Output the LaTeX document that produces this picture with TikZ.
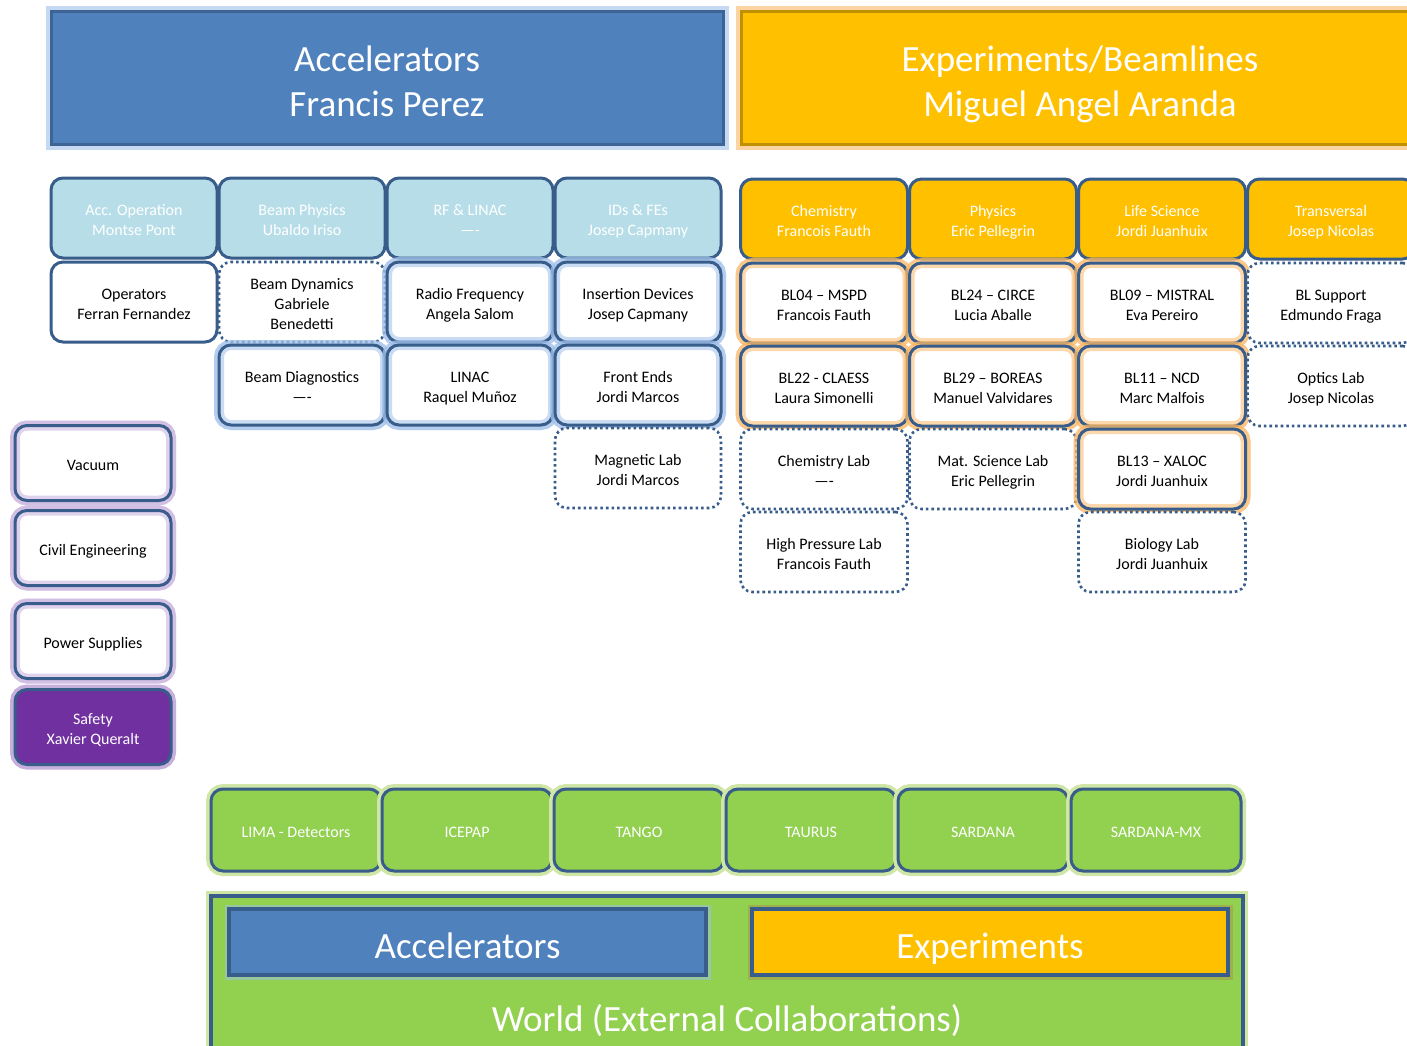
\documentclass[tikz,border=0pt]{standalone}
\usepackage{fontspec}
\setmainfont{Carlito}
\definecolor{accblue}{HTML}{4F81BD}
\definecolor{bord}{HTML}{385D8A}
\definecolor{teal}{HTML}{B7DEE8}
\definecolor{orng}{HTML}{FFC000}
\definecolor{grn}{HTML}{92D050}
\definecolor{purp}{HTML}{7030A0}
\definecolor{gblue}{HTML}{9FC0EA}
\definecolor{gorng}{HTML}{FAB868}
\definecolor{gpurp}{HTML}{C6AEDD}
\definecolor{ggrn}{HTML}{CFE6A6}
\newcommand\bxt[1]{\begin{tabular}{@{}c@{}}\rule{0pt}{20pt}#1\strut\end{tabular}}
\newcommand\bgt[1]{\begin{tabular}{@{}c@{}}\rule{0pt}{46pt}#1\strut\end{tabular}}
\tikzset{
  base/.style={rounded corners=12pt, inner sep=0pt,
    font=\fontsize{16}{20}\selectfont, text=black},
  solidbox/.style={base, fill=white, draw=bord, line width=3pt},
  glowbox/.style={base, fill=white,
    preaction={draw=#1, line width=10pt, opacity=.5},
    postaction={draw=#1, line width=10pt, opacity=.55},
    postaction={draw=bord, line width=3pt}},
  dotbox/.style={base, fill=white, draw=bord, line width=2.6pt, dash pattern=on 2.6pt off 3pt},
  headbox/.style={base, fill=#1, draw=bord, line width=3pt, text=white},
  greenbox/.style={base, fill=grn, text=white,
    preaction={draw=ggrn, line width=10pt},
    postaction={draw=bord, line width=3pt}},
  bigbox/.style={inner sep=0pt, text=white, font=\fontsize{37}{45}\selectfont},
}
\begin{document}
\begin{tikzpicture}[x=1pt,y=-1pt]
\clip (0,0) rectangle (1407,1045);
\fill[white] (0,0) rectangle (1407,1045);
% top headers
\node[bigbox, fill=accblue, draw=bord!80!accblue, line width=3pt,
  preaction={draw=gblue, line width=11pt, opacity=.6},
  minimum width=672pt, minimum height=133pt] (acc) at (387,78) {\bgt{Accelerators\\Francis Perez}};
\node[bigbox, fill=orng, draw=orng!75!black, line width=3pt,
  preaction={draw=gorng, line width=11pt, opacity=.6},
  minimum width=678pt, minimum height=133pt] (exp) at (1080,78) {\bgt{Experiments/Beamlines\\Miguel Angel Aranda}};
% accelerator columns
\begin{scope}[every node/.append style={minimum width=166pt, minimum height=80pt}]
\node[headbox=teal] (aop) at (134,218) {\bxt{Acc. Operation\\Montse Pont}};
\node[headbox=teal] (bph) at (302,218) {\bxt{Beam Physics\\Ubaldo Iriso}};
\node[headbox=teal] (rfl) at (470,218) {\bxt{RF \& LINAC\\—-}};
\node[headbox=teal] (idf) at (638,218) {\bxt{IDs \& FEs\\Josep Capmany}};
\node[solidbox] (ops) at (134,302) {\bxt{Operators\\Ferran Fernandez}};
\node[dotbox] (bdy) at (302,302) {\bxt{Beam Dynamics\\Gabriele\\Benedetti}};
\node[glowbox=gblue] (rfq) at (470,302) {\bxt{Radio Frequency\\Angela Salom}};
\node[glowbox=gblue] (ins) at (638,302) {\bxt{Insertion Devices\\Josep Capmany}};
\node[glowbox=gblue] (bdi) at (302,385) {\bxt{Beam Diagnostics\\—-}};
\node[glowbox=gblue] (lin) at (470,385) {\bxt{LINAC\\Raquel Muñoz}};
\node[glowbox=gblue] (fe) at (638,385) {\bxt{Front Ends\\Jordi Marcos}};
\node[dotbox] (mag) at (638,468) {\bxt{Magnetic Lab\\Jordi Marcos}};
\end{scope}
% experiments columns
\begin{scope}[every node/.append style={minimum width=167pt, minimum height=80pt}]
\node[headbox=orng] (che) at (824,219) {\bxt{Chemistry\\Francois Fauth}};
\node[headbox=orng] (phy) at (993,219) {\bxt{Physics\\Eric Pellegrin}};
\node[headbox=orng] (lif) at (1162,219) {\bxt{Life Science\\Jordi Juanhuix}};
\node[headbox=orng] (tra) at (1331,219) {\bxt{Transversal\\Josep Nicolas}};
\node[glowbox=gorng] (bl04) at (824,303) {\bxt{BL04 – MSPD\\Francois Fauth}};
\node[glowbox=gorng] (bl24) at (993,303) {\bxt{BL24 – CIRCE\\Lucia Aballe}};
\node[glowbox=gorng] (bl09) at (1162,303) {\bxt{BL09 – MISTRAL\\Eva Pereiro}};
\node[dotbox] (bls) at (1331,303) {\bxt{BL Support\\Edmundo Fraga}};
\node[glowbox=gorng] (bl22) at (824,386) {\bxt{BL22 - CLAESS\\Laura Simonelli}};
\node[glowbox=gorng] (bl29) at (993,386) {\bxt{BL29 – BOREAS\\Manuel Valvidares}};
\node[glowbox=gorng] (bl11) at (1162,386) {\bxt{BL11 – NCD\\Marc Malfois}};
\node[dotbox] (opt) at (1331,386) {\bxt{Optics Lab\\Josep Nicolas}};
\node[dotbox] (chl) at (824,469) {\bxt{Chemistry Lab\\—-}};
\node[dotbox] (msl) at (993,469) {\bxt{Mat. Science Lab\\Eric Pellegrin}};
\node[glowbox=gorng] (bl13) at (1162,469) {\bxt{BL13 – XALOC\\Jordi Juanhuix}};
\node[dotbox] (hpl) at (824,552) {\bxt{High Pressure Lab\\Francois Fauth}};
\node[dotbox] (bio) at (1162,552) {\bxt{Biology Lab\\Jordi Juanhuix}};
\end{scope}
% left column
\begin{scope}[every node/.append style={minimum width=156pt, minimum height=75pt}]
\node[glowbox=gpurp] (vac) at (93,463) {\bxt{Vacuum}};
\node[glowbox=gpurp] (civ) at (93,548) {\bxt{Civil Engineering}};
\node[glowbox=gpurp] (pow) at (93,641) {\bxt{Power Supplies}};
\node[base, fill=purp, text=white, preaction={draw=gpurp, line width=10pt},
  postaction={draw=bord, line width=3pt}] (saf) at (93,727) {\bxt{Safety\\Xavier Queralt}};
\end{scope}
% green row
\begin{scope}[every node/.append style={minimum width=170pt, minimum height=82pt}]
\node[greenbox] (lima) at (296,830) {\bxt{LIMA - Detectors}};
\node[greenbox] (icep) at (467,830) {\bxt{ICEPAP}};
\node[greenbox] (tango) at (639,830) {\bxt{TANGO}};
\node[greenbox] (taur) at (811,830) {\bxt{TAURUS}};
\node[greenbox] (sard) at (983,830) {\bxt{SARDANA}};
\node[greenbox] (sardmx) at (1156,830) {\bxt{SARDANA-MX}};
\end{scope}
% world
\draw[fill=grn, draw=bord, line width=4pt, preaction={draw=ggrn, line width=10pt}] (211,896) rectangle (1243,1060);
\node[bigbox, fill=accblue, draw=bord, line width=4pt,
  preaction={draw=gblue, line width=9pt, opacity=.5},
  minimum width=477pt, minimum height=66pt] (wacc) at (467.5,942) {\bgt{Accelerators}};
\node[bigbox, fill=orng, draw=bord, line width=4pt,
  preaction={draw=gorng!70!black, line width=9pt, opacity=.4},
  minimum width=476pt, minimum height=66pt] (wexp) at (990,942) {\bgt{Experiments}};
\node[bigbox] (world) at (727,1015) {\bgt{World (External Collaborations)}};
\end{tikzpicture}
\end{document}
